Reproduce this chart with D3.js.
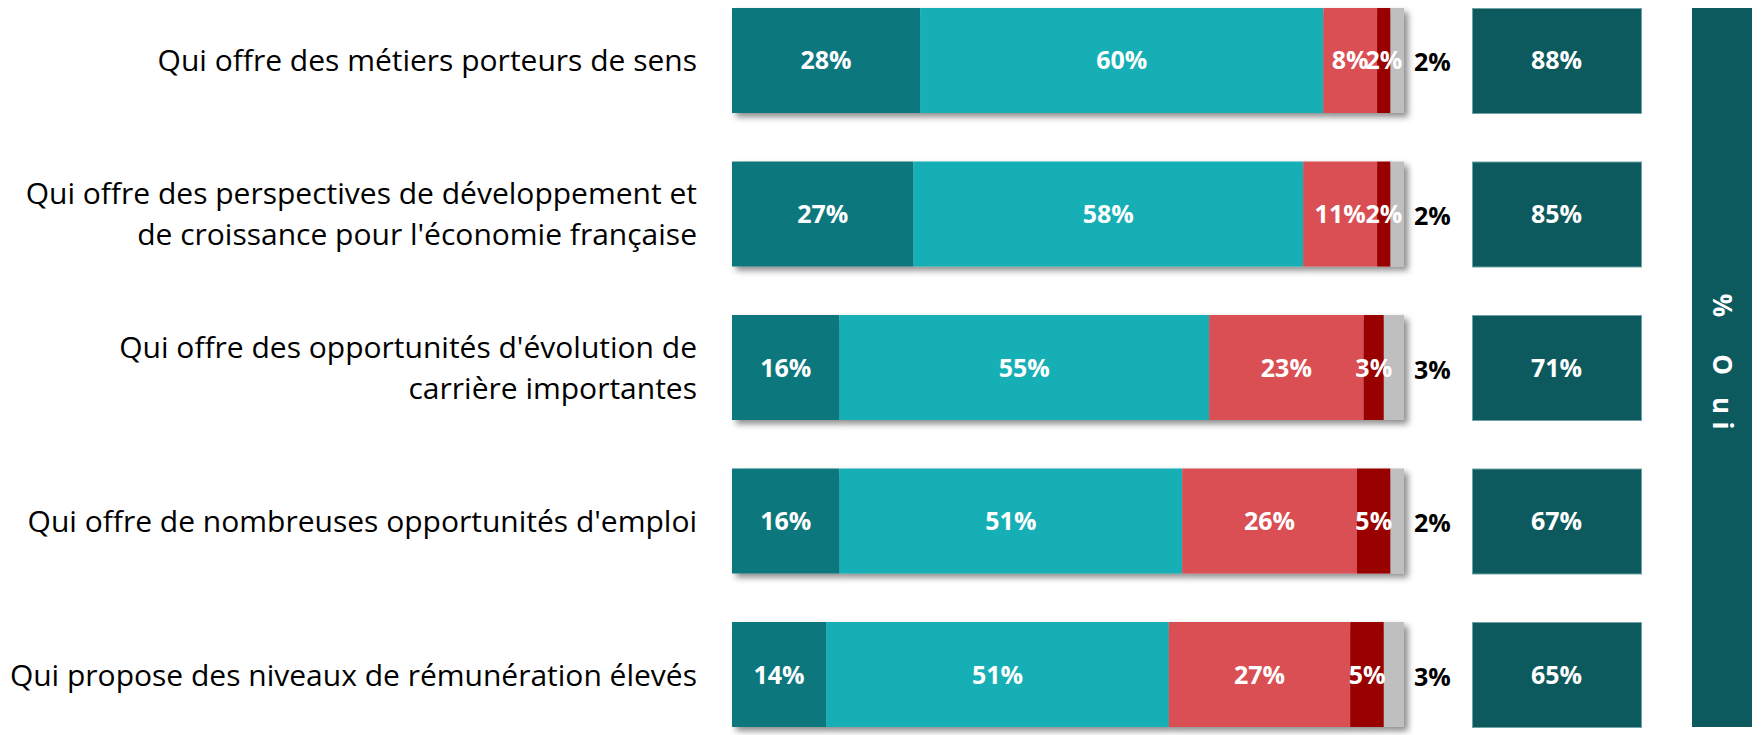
<!DOCTYPE html>
<html>
<head>
<meta charset="utf-8">
<script src="https://cdn.jsdelivr.net/npm/d3@7/dist/d3.min.js"></script>
<style>
  body { margin: 0; background: #fff; }
</style>
</head>
<body>
<div id="container"></div>
<script>

// row labels (split where the original breaks the line)
const categories = [
  ["Qui offre des métiers porteurs de sens"],
  ["Qui offre des perspectives de développement et", "de croissance pour l'économie française"],
  ["Qui offre des opportunités d'évolution de", "carrière importantes"],
  ["Qui offre de nombreuses opportunités d'emploi"],
  ["Qui propose des niveaux de rémunération élevés"]
];

// answer shares, % (one value per row)
const toutAFait   = [28, 27, 16, 16, 14];
const plutot      = [60, 58, 55, 51, 51];
const plutotPas   = [8, 11, 23, 26, 27];
const pasDuTout   = [2, 2, 3, 5, 5];
const nsp         = [2, 2, 3, 2, 3];
const oui         = [88, 85, 71, 67, 65];

const seriesNames  = ["toutAFait", "plutot", "plutotPas", "pasDuTout", "nsp"];
const seriesColors = ["#0f777e", "#14afb6", "#d94f52", "#990000", "#bfbfbf"];

const width = 1762, height = 735;

const rows = categories.map((c, i) => ({
  key: i,
  label: c,
  toutAFait: toutAFait[i],
  plutot: plutot[i],
  plutotPas: plutotPas[i],
  pasDuTout: pasDuTout[i],
  nsp: nsp[i],
  oui: oui[i]
}));

const stack = d3.stack().keys(seriesNames)(rows);

const x = d3.scaleLinear().domain([0, 100]).range([732, 1404]);
const y = d3.scaleBand().domain(rows.map(d => d.key)).range([8, 727]).paddingInner(0.316);

const svg = d3.create("svg")
    .attr("width", width)
    .attr("height", height)
    .style("font-family", "'Open Sans', sans-serif");

// drop shadow under the stacked bars
const defs = svg.append("defs");
defs.append("filter").attr("id", "shadow")
    .attr("x", "-5%").attr("y", "-10%").attr("width", "115%").attr("height", "130%")
  .append("feDropShadow")
    .attr("dx", 4).attr("dy", 4).attr("stdDeviation", 3)
    .attr("flood-color", "#000").attr("flood-opacity", 0.45);

// row labels
const lab = svg.append("g").selectAll("text").data(rows).enter().append("text")
    .attr("text-anchor", "end")
    .attr("font-size", 30)
    .attr("fill", "#000");

lab.selectAll("tspan").data(d => d.label.map((t, j) => ({ t, j, n: d.label.length, key: d.key })))
  .enter().append("tspan")
    .attr("x", 697)
    .attr("y", d => y(d.key) + y.bandwidth() / 2 + (d.j - (d.n - 1) / 2) * 41 + 11)
    .text(d => d.t);

// stacked bars
const bars = svg.append("g");
rows.forEach((r, i) => {
  bars.append("g").attr("filter", "url(#shadow)")
    .selectAll("rect").data(stack.map(s => s[i])).enter().append("rect")
      .attr("x", d => x(d[0]))
      .attr("width", d => x(d[1]) - x(d[0]))
      .attr("y", y(r.key))
      .attr("height", y.bandwidth())
      .attr("fill", (d, k) => seriesColors[k]);
});

// value labels inside segments (first four series)
stack.slice(0, 4).forEach(s => {
  svg.append("g").selectAll("text").data(s).enter().append("text")
      .attr("x", d => (x(d[0]) + x(d[1])) / 2)
      .attr("y", d => y(d.data.key) + y.bandwidth() / 2 + 9)
      .attr("text-anchor", "middle")
      .attr("font-size", 25)
      .attr("font-weight", 700)
      .attr("fill", "#fff")
      .text(d => (d[1] - d[0]) + "%");
});

// NSP value outside the bar
svg.append("g").selectAll("text").data(stack[4]).enter().append("text")
    .attr("x", d => x(d[1]) + 10)
    .attr("y", d => y(d.data.key) + y.bandwidth() / 2 + 11)
    .attr("font-size", 25)
    .attr("font-weight", 700)
    .attr("fill", "#000")
    .text(d => (d[1] - d[0]) + "%");

// % Oui boxes
const ouiX0 = 1472, ouiX1 = 1641;
svg.append("g").selectAll("rect").data(rows).enter().append("rect")
    .attr("x", ouiX0 + 0.5)
    .attr("width", ouiX1 - ouiX0)
    .attr("y", d => y(d.key) + 0.5)
    .attr("height", y.bandwidth())
    .attr("fill", "#0d5a5e")
    .attr("stroke", "#6fa3a5")
    .attr("stroke-width", 1);

svg.append("g").selectAll("text").data(rows).enter().append("text")
    .attr("x", (ouiX0 + ouiX1) / 2)
    .attr("y", d => y(d.key) + y.bandwidth() / 2 + 9)
    .attr("text-anchor", "middle")
    .attr("font-size", 25)
    .attr("font-weight", 700)
    .attr("fill", "#fff")
    .text(d => d.oui + "%");

// vertical header box
const hx0 = 1692, hx1 = 1752;
const [hy0, hy1] = y.range();
svg.append("rect")
    .attr("x", hx0).attr("width", hx1 - hx0)
    .attr("y", hy0).attr("height", hy1 - hy0)
    .attr("fill", "#0d5a5e");

const hcx = (hx0 + hx1) / 2, hcy = (hy0 + hy1) / 2;
const header = svg.append("text")
    .attr("transform", `translate(${hcx},${hcy}) rotate(90)`)
    .attr("font-size", 26)
    .attr("font-weight", 700)
    .attr("fill", "#fff")
    .attr("text-anchor", "middle");
[["%", -62], ["O", -3], ["u", 38], ["i", 58]].forEach(([ch, off]) => {
  header.append("tspan").attr("x", off).attr("y", 9).text(ch);
});

container.append(svg.node());
</script>
</body>
</html>
